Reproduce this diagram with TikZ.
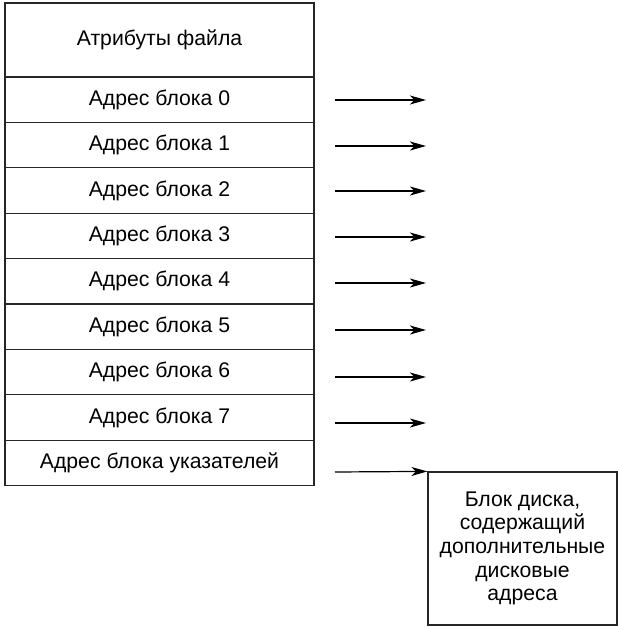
\documentclass[tikz,border=0pt]{standalone}
\usepackage{fontspec}
\setmainfont{Liberation Sans}
\usetikzlibrary{arrows.meta}
\begin{document}
\begin{tikzpicture}[x=1pt,y=-1pt,
  cell/.style={draw=black!85,line width=1.2pt,minimum width=309pt,inner sep=0pt,
    font=\fontsize{21.2}{23.7}\selectfont,anchor=center},
  ptr/.style={line width=1.2pt,-{Stealth[length=16pt,width=9pt,inset=4.5pt]}},
  disk/.style={draw=black!85,line width=1.2pt,minimum width=189pt,minimum height=153pt,
    inner sep=0pt,align=center,font=\fontsize{21.2}{23.7}\selectfont}]
\useasboundingbox (0,0) rectangle (618,627);
\node[cell,minimum height=74pt] (attr) at (159.5,40) {Атрибуты файла};
\foreach \i in {0,...,7}{
  \node[cell,minimum height=45.4pt] (r\i) at (159.5,{99.7+45.4*\i}) {Адрес блока \i};
}
\node[cell,minimum height=45.4pt] (r8) at (159.5,{99.7+45.4*8}) {Адрес блока указателей};
\node[disk] (blk) at (522.5,548.5) {Блок диска,\\содержащий\\дополнительные\\дисковые\\адреса};
\foreach \i/\y in {0/100,1/146,2/191,3/237,4/283,5/330,6/377,7/423}{
  \coordinate (s\i) at (335,\y);
  \coordinate (e\i) at (426,\y);
  \draw[ptr] (s\i) -- (e\i);
}
\coordinate (s8) at (335,472);
\draw[ptr] (s8) -- (blk.north west);
\end{tikzpicture}
\end{document}
